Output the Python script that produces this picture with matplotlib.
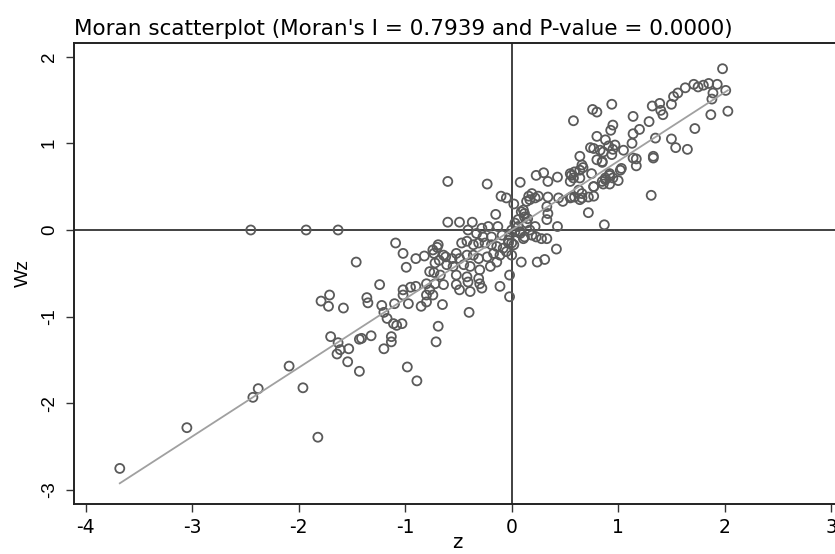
import numpy as np
import matplotlib
matplotlib.use('Agg')
import matplotlib.pyplot as plt

plt.rcParams['font.family'] = ['DejaVu Sans']
plt.rcParams['axes.unicode_minus'] = False

moran_i = 0.7939
p_value = 0.0000

# standardized variable (z) and its spatial lag (Wz)
z = [-3.68, -3.05, -2.43, -2.38, -2.09, -1.96, -1.82, -1.46, -1.71, -1.79,
     -1.72, -1.58, -1.36, -1.35, -1.70, -1.63, -1.61, -1.64, -1.53, -1.54,
     -1.43, -1.43, -1.41, -1.32, -2.45, -1.93, -1.63,
     -0.60, -0.23, -0.10, -0.05, 0.02, -0.15, 0.08, -0.60, -0.49, -0.37,
     -1.09, -1.02, -0.90, -0.82, -0.99, -0.70, -0.73, -0.68, -0.62, -0.73,
     -1.24, -1.02, -0.95, -0.90, -1.02, -1.22, -1.10, -0.97, -0.85, -0.80,
     -0.80, -0.77, -0.65, -1.20, -1.17, -1.11, -1.08, -1.03, -0.40, -0.69,
     -0.71, -1.13, -1.13, -1.20, -0.98, -0.89, -0.02, -0.02, -0.11,
     -0.28, -0.22, -0.13, -0.41, -0.33, -0.27, -0.19, -0.09, -0.02, 0.03,
     -0.47, -0.42, -0.36, -0.31, -0.25, -0.19, -0.14, -0.08, -0.03, -0.69,
     -0.74, -0.64, -0.56, -0.52, -0.49, -0.42, -0.36, -0.31, -0.23, -0.17,
     -0.11, -0.14, -0.72, -0.61, -0.55, -0.45, -0.39, -0.30, -0.20, -0.77,
     -0.67, -0.52, -0.42, -0.31, -0.80, -0.72, -0.64, -0.52, -0.41, -0.30,
     -0.49, -0.39, -0.28, -0.74,
     0.23, 0.30, 0.34, 0.43, 0.55, 0.58, 0.66, 0.67, 0.75, 0.85,
     0.88, 0.92, 0.55, 0.63, 0.77, 0.19, 0.16, 0.22, 0.25, 0.17,
     0.14, 0.34, 0.44, 0.48, 0.55, 0.59, 0.64, 0.66, 0.77, 0.11,
     0.12, 0.15, 0.33, 0.34, 0.33, 0.72, 0.87, 0.43, 0.03, 0.06,
     0.00, 0.08, 0.17, 0.19, 0.12, 0.23, 0.28, 0.33, 0.00, -0.05,
     0.00, 0.42, 0.09, 0.24, 0.31,
     1.98, 2.01, 2.03, 1.87, 1.88, 1.89, 1.85, 1.80, 1.75, 1.71,
     1.93, 1.63, 1.56, 1.52, 1.50, 1.72, 1.50, 1.54, 1.65, 1.32,
     1.39, 1.40, 1.42, 1.29, 1.14, 1.20, 1.14, 1.35, 0.94, 0.76,
     0.80, 0.95, 0.93, 0.80, 0.88, 0.91, 0.97, 1.13, 1.05, 0.95,
     0.86, 0.77, 0.80, 0.85, 0.94, 1.14, 1.17, 1.17, 1.33, 1.33,
     1.03, 0.92, 0.88, 0.95, 1.00, 0.86, 0.77, 1.31,
     0.58, 0.64, 0.74, 0.83, 0.64, 0.59, 0.56, 0.64, 0.85, 0.92,
     1.02, 0.72, 0.66, 0.56,
     0.09, 0.12, 0.06, 0.14, 0.22, 0.08, 0.11, -0.03, 0.02]

wz = [-2.75, -2.28, -1.93, -1.83, -1.57, -1.82, -2.39, -0.37, -0.75, -0.82,
      -0.88, -0.90, -0.78, -0.84, -1.23, -1.30, -1.38, -1.43, -1.37, -1.52,
      -1.63, -1.26, -1.25, -1.22, 0.00, 0.00, 0.00,
      0.56, 0.53, 0.39, 0.37, 0.30, 0.18, 0.55, 0.09, 0.09, 0.09,
      -0.15, -0.27, -0.33, -0.30, -0.43, -0.20, -0.27, -0.35, -0.31, -0.49,
      -0.63, -0.69, -0.66, -0.65, -0.75, -0.87, -0.85, -0.85, -0.88, -0.83,
      -0.75, -0.69, -0.86, -0.95, -1.02, -1.08, -1.10, -1.08, -0.95, -1.11,
      -1.29, -1.23, -1.29, -1.37, -1.58, -1.74, -0.52, -0.77, -0.65,
      0.02, 0.04, 0.04, 0.00, -0.04, -0.08, -0.08, -0.06, -0.06, -0.02,
      -0.15, -0.13, -0.17, -0.15, -0.15, -0.17, -0.19, -0.21, -0.15, -0.17,
      -0.23, -0.29, -0.33, -0.27, -0.33, -0.29, -0.29, -0.33, -0.31, -0.27,
      -0.29, -0.37, -0.38, -0.40, -0.42, -0.40, -0.42, -0.46, -0.42, -0.48,
      -0.52, -0.52, -0.54, -0.56, -0.62, -0.62, -0.63, -0.63, -0.60, -0.62,
      -0.69, -0.71, -0.67, -0.75,
      0.63, 0.66, 0.56, 0.61, 0.65, 0.60, 0.75, 0.72, 0.65, 0.78,
      0.58, 0.63, 0.56, 0.46, 0.50, 0.42, 0.39, 0.37, 0.39, 0.35,
      0.33, 0.38, 0.37, 0.33, 0.37, 0.38, 0.35, 0.42, 0.39, 0.23,
      0.19, 0.13, 0.27, 0.19, 0.12, 0.20, 0.06, 0.04, 0.08, 0.04,
      0.00, -0.02, 0.00, -0.06, -0.08, -0.08, -0.10, -0.10, -0.15, -0.25,
      -0.29, -0.22, -0.37, -0.37, -0.34,
      1.86, 1.61, 1.37, 1.33, 1.51, 1.58, 1.69, 1.67, 1.65, 1.68,
      1.68, 1.64, 1.58, 1.54, 1.45, 1.17, 1.05, 0.95, 0.93, 1.43,
      1.46, 1.38, 1.33, 1.25, 1.31, 1.16, 1.11, 1.06, 1.45, 1.39,
      1.36, 1.21, 1.15, 1.08, 1.04, 0.97, 0.98, 1.00, 0.92, 0.93,
      0.90, 0.94, 0.81, 0.79, 0.87, 0.83, 0.82, 0.74, 0.85, 0.83,
      0.71, 0.65, 0.60, 0.60, 0.57, 0.53, 0.50, 0.40,
      1.26, 0.85, 0.95, 0.92, 0.69, 0.67, 0.63, 0.60, 0.56, 0.53,
      0.69, 0.38, 0.37, 0.38,
      0.21, 0.15, 0.12, 0.08, 0.04, -0.04, -0.10, -0.12, -0.17]

xticks = [-4, -3, -2, -1, 0, 1, 2, 3]
yticks = [-3, -2, -1, 0, 1, 2]

fig = plt.figure(figsize=(8.35, 5.54), dpi=100)
ax = fig.add_axes([0.0886, 0.0903, 0.9174, 0.8326])

ax.axvline(0, color='#333333', lw=1.3, zorder=1)
ax.axhline(0, color='#333333', lw=1.3, zorder=1)

ax.scatter(z, wz, s=42, facecolors='none', edgecolors='#5a5a5a', linewidths=1.3, zorder=2)

# fitted line (slope = Moran's I) over the range of z
zz = np.array([min(z), max(z)])
ax.plot(zz, moran_i * zz, color='#a0a0a0', lw=1.3, zorder=3)

ax.set_xlim(-4.11, 3.083)
ax.set_ylim(-3.16, 2.16)
ax.set_xticks(xticks)
ax.set_yticks(yticks)
ax.tick_params(axis='both', direction='out', length=6, width=1, color='#333333')
ax.tick_params(axis='x', pad=4, labelsize=13.5)
ax.tick_params(axis='y', pad=5.5, labelsize=13.5)
for lab in ax.get_yticklabels():
    lab.set_rotation(90)
    lab.set_va('center')
    lab.set_family('Liberation Sans')

for side in ['left', 'bottom', 'top']:
    ax.spines[side].set_color('#222222')
    ax.spines[side].set_linewidth(1.4)
ax.spines['right'].set_visible(False)

ax.set_ylabel('Wz', fontsize=14, family='Liberation Sans')
ax.yaxis.set_label_coords(-0.055, 0.5)
ax.set_xlabel('z', fontsize=14, va='top')
ax.xaxis.set_label_coords(0.5, -0.064)
ax.set_title("Moran scatterplot (Moran's I = %.4f and P-value = %.4f)" % (moran_i, p_value),
             loc='left', fontsize=15.5, pad=5.5)

fig.savefig('out.png', dpi=100)
